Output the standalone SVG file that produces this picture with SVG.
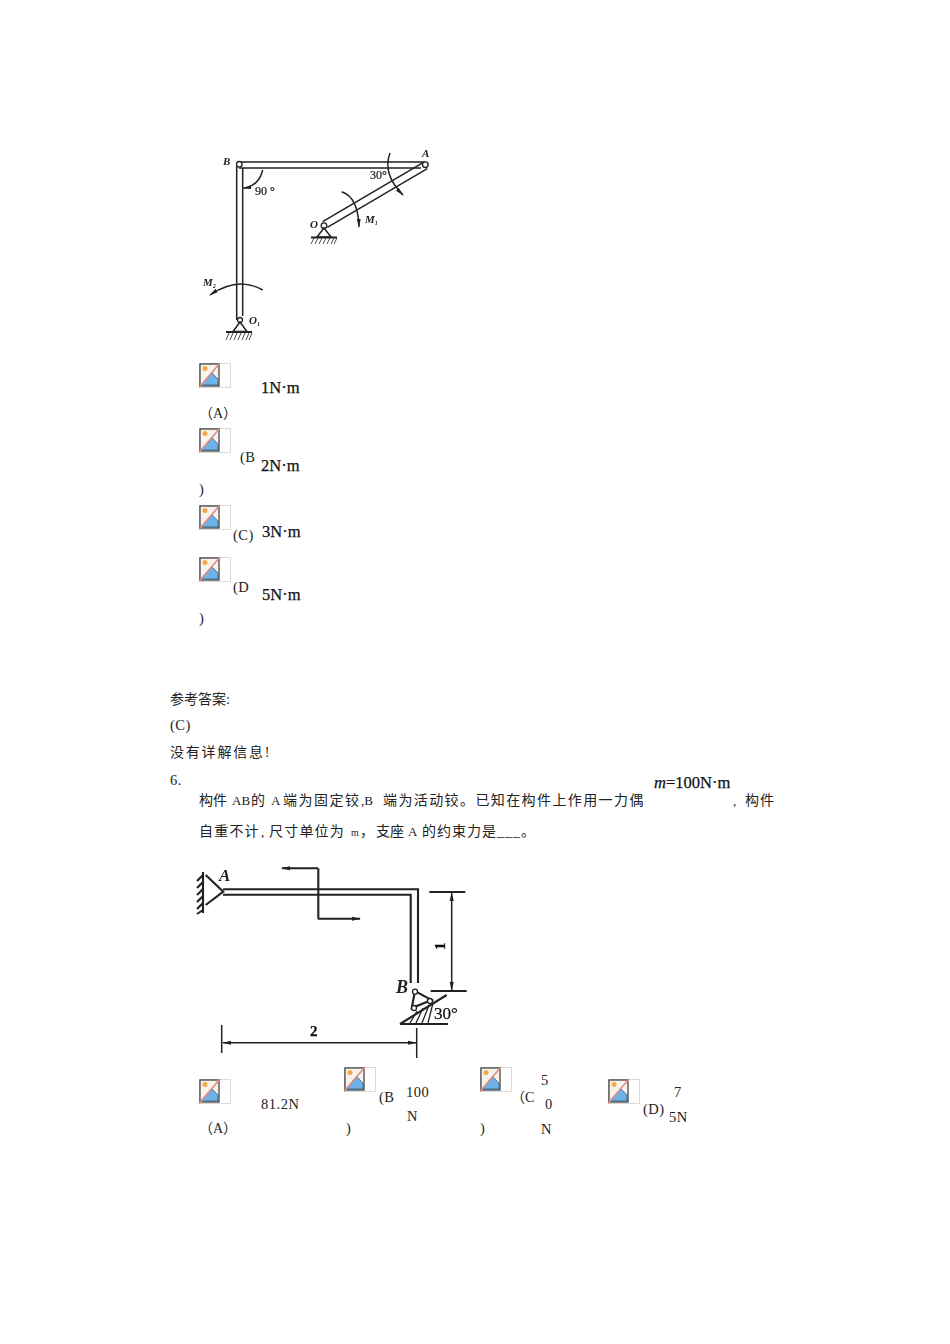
<svg xmlns="http://www.w3.org/2000/svg" width="950" height="1344" viewBox="0 0 950 1344">
<style>
.t{font-family:"Liberation Serif","Noto Sans CJK SC",serif;font-size:14.500px;fill:#222;letter-spacing:.5px}
.s{font-family:"Liberation Serif",serif;font-size:13px;fill:#222}
.c{font-family:"Liberation Serif","Noto Sans CJK SC",serif;font-size:14px;fill:#222}
.v{font-family:"Liberation Serif",serif;font-size:16.500px;fill:#111;stroke:#111;stroke-width:.25}
.i{font-family:"Liberation Serif",serif;font-style:italic;fill:#222}
.l{fill:none;stroke:#222;stroke-width:1.5}
.k{fill:none;stroke:#222;stroke-width:2.100}
.h{fill:none;stroke:#333;stroke-width:.9}
.w{fill:#fff;stroke:#222;stroke-width:1.3}
</style>
<defs>
<filter id="soft"><feGaussianBlur stdDeviation="0.4"/></filter>
<marker id="ah" markerWidth="9" markerHeight="5" refX="8" refY="2.500" orient="auto-start-reverse" markerUnits="userSpaceOnUse"><path d="M0,0.5L9,2.500L0,4.500z" fill="#222"/></marker>
<g id="icon">
<rect x="0.5" y="0.5" width="31" height="24" fill="#fff" stroke="#d9d9d9"/>
<rect x="1" y="1" width="19" height="22" fill="#fff" stroke="#333" stroke-width="1.2"/>
<rect x="2" y="2" width="17" height="20" fill="#f7f3ea"/>
<circle cx="6" cy="5.5" r="2.5" fill="#f2a94e"/>
<path d="M2,22L13,10L19,16V22z" fill="#6db3e8" stroke="#24506e" stroke-width=".7"/>
<path d="M0,24.500L21,0" stroke="#e08a8a" stroke-width="1.600"/>
</g>
</defs>
<rect width="950" height="1344" fill="#fff"/>

<g id="figure-1" filter="url(#soft)">
<path class="l" d="M239,162H425M239,168H421M236.700,165V320M242.700,168V316"/>
<path class="l" d="M322.700,221.700L423,162.700M327.300,227.300L427.300,168.700"/>
<circle class="w" cx="239.300" cy="164.300" r="2.800"/>
<circle class="w" cx="425.300" cy="164.700" r="2.800"/>
<circle class="w" cx="324" cy="225.700" r="2.800"/>
<circle class="w" cx="240" cy="320" r="2.500"/>
<path class="l" d="M324,228L317,237H331zM240,322L233,331.500H247z"/>
<path class="k" d="M311,237.500H337M226,332H252"/>
<path class="h" d="M314,238L311,244M318,238L315,244M322,238L319,244M326,238L323,244M330,238L327,244M334,238L331,244M337,238L334,244M229,333L226,340M233,333L230,340M237,333L234,340M241,333L238,340M245,333L242,340M249,333L246,340M252,333L249,340"/>
<path class="l" marker-end="url(#ah)" d="M262.700,170Q259,186 243.300,188.300"/>
<path class="l" marker-end="url(#ah)" d="M390,153Q382,174 403,195"/>
<path class="l" marker-end="url(#ah)" d="M341.700,191.700Q358,197 359,226.700"/>
<path class="l" marker-end="url(#ah)" d="M262.700,290Q238,276 210,295"/>
<text class="i" font-size="11" font-weight="bold" x="223" y="165">B</text>
<text class="i" font-size="11" font-weight="bold" x="422" y="157">A</text>
<text class="i" font-size="11" font-weight="bold" x="310" y="228">O</text>
<text class="i" font-size="11" font-weight="bold" x="365" y="223">M<tspan font-size="6" dy="2">1</tspan></text>
<text class="i" font-size="11" font-weight="bold" x="203" y="286">M<tspan font-size="6" dy="2">2</tspan></text>
<text class="i" font-size="11" font-weight="bold" x="249" y="324">O<tspan font-size="6" dy="2">1</tspan></text>
<text class="v" style="font-size:12px;stroke-width:.2" x="255" y="195">90 °</text>
<text class="v" style="font-size:12px;stroke-width:.2" x="370" y="179">30°</text>
</g>

<g id="option-a-top">
<use href="#icon" x="199" y="363"/>
<text class="v" x="261" y="393">1N·m</text>
<text class="c" x="199" y="418">（A）</text>
</g>
<g id="option-b-top">
<use href="#icon" x="199" y="428"/>
<text class="t" x="240" y="462">(B</text>
<text class="v" x="261" y="471">2N·m</text>
<text class="t" x="199" y="494">)</text>
</g>
<g id="option-c-top">
<use href="#icon" x="199" y="505"/>
<text class="t" x="233" y="540">(C)</text>
<text class="v" x="262" y="537">3N·m</text>
</g>
<g id="option-d-top">
<use href="#icon" x="199" y="557"/>
<text class="t" x="233" y="592">(D</text>
<text class="v" x="262" y="600">5N·m</text>
<text class="t" x="199" y="623">)</text>
</g>

<g id="answer">
<text class="c" x="170" y="704">参考答案:</text>
<text class="t" x="170" y="730">(C)</text>
<text class="c" x="170" y="757" letter-spacing="1.800">没有详解信息!</text>
</g>

<g id="question-6">
<text class="t" x="170" y="785">6.</text>
<text class="v" x="654" y="788"><tspan font-style="italic">m</tspan>=100N·m</text>
<text class="c" y="805"><tspan x="199">构件</tspan><tspan class="s" x="232">AB</tspan><tspan x="251">的</tspan><tspan class="s" x="271">A</tspan><tspan x="283" letter-spacing="1.500">端为固定铰</tspan><tspan class="s" x="361">,B</tspan><tspan x="383" letter-spacing="1.400">端为活动铰。已知在构件上作用一力偶</tspan><tspan x="733" class="s">,</tspan><tspan x="745" letter-spacing="1">构件</tspan></text>
<text class="c" y="836"><tspan x="199" letter-spacing="1.200">自重不计</tspan><tspan class="s" x="261">,</tspan><tspan x="269" letter-spacing="1.200">尺寸单位为</tspan><tspan class="s" style="font-size:10px" x="351">m</tspan><tspan x="360">，</tspan><tspan x="376">支座</tspan><tspan class="s" x="408">A</tspan><tspan x="422" letter-spacing="1">的约束力是___。</tspan></text>
</g>

<g id="figure-2" filter="url(#soft)">
<path class="k" d="M203,872V913M203,875L197,881M203,882L197,888M203,889L197,895M203,896L197,902M203,903L197,909M203,910L197,914"/>
<path class="k" d="M205.700,875L223.300,891.700L205.700,905"/>
<path class="k" d="M223,889.300H418V983M223,894.700H410.700V983"/>
<path class="k" marker-end="url(#ah)" d="M318,868.300H282"/>
<path class="k" d="M318.300,868.300V918.300"/>
<path class="k" marker-end="url(#ah)" d="M317.700,918.800H360"/>
<path class="k" d="M429.300,892H465.300M430.700,991H466.700"/>
<path class="l" marker-start="url(#ah)" marker-end="url(#ah)" d="M451.700,893V990"/>
<path class="l" d="M221.700,1025V1053M416.700,1028V1058"/>
<path class="l" marker-start="url(#ah)" marker-end="url(#ah)" d="M223,1042.700H416"/>
<text class="i" font-weight="bold" font-size="17" x="219" y="881">A</text>
<text class="i" font-weight="bold" font-size="18" x="396" y="993">B</text>
<text class="v" style="font-size:15px;font-weight:bold" x="310" y="1036">2</text>
<text class="v" style="font-size:15px;font-weight:bold" transform="translate(445,950) rotate(-90)">1</text>
<path class="k" d="M400,1024H448M400,1024L446.700,995"/>
<path class="k" d="M415,991L411.700,1008L431.700,1000z"/>
<circle class="w" cx="415" cy="991.700" r="2.500"/>
<circle class="w" cx="414" cy="1008" r="2.500"/>
<circle class="w" cx="430" cy="1001" r="2.500"/>
<path class="k" style="stroke-width:1.300" d="M410,1023L417,1011M416,1023L423,1008M422,1023L429,1005M428,1023L433,1003"/>
<text class="v" style="font-size:17px" x="434" y="1019">30°</text>
</g>

<g id="option-a-bottom">
<use href="#icon" x="199" y="1079"/>
<text class="t" x="261" y="1109" letter-spacing="1.200">81.2N</text>
<text class="c" x="199" y="1133">（A）</text>
</g>
<g id="option-b-bottom">
<use href="#icon" x="344" y="1067"/>
<text class="t" x="379" y="1102">(B</text>
<text class="t" x="406" y="1097">100</text>
<text class="t" x="407" y="1121">N</text>
<text class="t" x="346" y="1133">)</text>
</g>
<g id="option-c-bottom">
<use href="#icon" x="480" y="1067"/>
<text class="c" x="511" y="1102">（C</text>
<text class="t" x="541" y="1085">5</text>
<text class="t" x="545" y="1109">0</text>
<text class="t" x="541" y="1134">N</text>
<text class="t" x="480" y="1133">)</text>
</g>
<g id="option-d-bottom">
<use href="#icon" x="608" y="1079"/>
<text class="t" x="643" y="1114">(D)</text>
<text class="t" x="674" y="1097">7</text>
<text class="t" x="669" y="1122">5N</text>
</g>
</svg>
